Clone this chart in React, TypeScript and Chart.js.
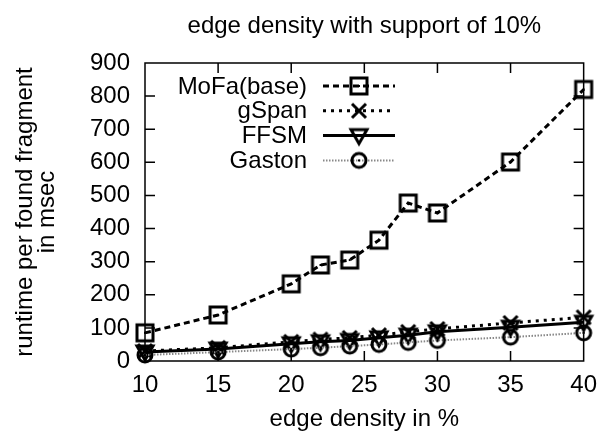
import React, { useEffect, useRef } from "react";
import { Chart, registerables } from "chart.js";

Chart.register(...registerables);

const xValues = [10, 15, 20, 22, 24, 26, 28, 30, 35, 40];
const mofa = [85, 139, 233, 290, 305, 365, 477, 447, 601, 820];
const gspan = [30, 40, 58, 65, 70, 78, 88, 97, 115, 132];
const ffsm = [27, 36, 52, 58, 62, 70, 78, 88, 102, 117];
const gaston = [18, 27, 36, 40, 45, 50, 56, 62, 72, 85];
const seriesNames = ["MoFa(base)", "gSpan", "FFSM", "Gaston"];
const chartTitle = "edge density with support of 10%";
const xTitle = "edge density in %";
const yTitle = ["runtime per found fragment", "in msec"];
const xMin = 10, xMax = 40, xStep = 5;
const yMin = 0, yMax = 900, yStep = 100;

const FONT = "'Liberation Sans', Arial, Helvetica, sans-serif";

type MarkerKind = "square" | "cross" | "tri" | "circle";

function makeMarker(kind: MarkerKind): HTMLCanvasElement {
  const c = document.createElement("canvas");
  c.width = 24;
  c.height = 24;
  const g = c.getContext("2d")!;
  g.translate(12, 12);
  g.strokeStyle = "#000";
  g.fillStyle = "#000";
  g.lineWidth = 3;
  g.beginPath();
  if (kind === "square") {
    g.rect(-8, -8, 16, 16);
    g.stroke();
    g.fillRect(-1, -1, 2, 2);
  } else if (kind === "cross") {
    g.moveTo(-7, -7);
    g.lineTo(7, 7);
    g.moveTo(7, -7);
    g.lineTo(-7, 7);
    g.stroke();
  } else if (kind === "tri") {
    g.moveTo(-8, -6);
    g.lineTo(8, -6);
    g.lineTo(0, 8);
    g.closePath();
    g.stroke();
  } else {
    g.arc(0, 0, 7, 0, Math.PI * 2);
    g.stroke();
    g.fillRect(-1, -1, 2, 2);
  }
  return c;
}

const lineStyles = [
  { color: "#000", width: 3, dash: [6, 4] },
  { color: "#000", width: 3, dash: [3, 5] },
  { color: "#000", width: 3, dash: [] as number[] },
  { color: "#888", width: 2, dash: [1.5, 1.5] },
];

export default function App() {
  const ref = useRef<HTMLCanvasElement | null>(null);

  useEffect(() => {
    if (!ref.current) return;
    const markers = [
      makeMarker("square"),
      makeMarker("cross"),
      makeMarker("tri"),
      makeMarker("circle"),
    ];
    const seriesData = [mofa, gspan, ffsm, gaston];

    const framePlugin = {
      id: "frameTicks",
      beforeDatasetsDraw(chart: any) {
        const { ctx, chartArea: a, scales } = chart;
        ctx.save();
        ctx.strokeStyle = "#000";
        ctx.lineWidth = 1.5;
        ctx.strokeRect(a.left, a.top, a.right - a.left, a.bottom - a.top);
        const T = 10;
        ctx.beginPath();
        scales.x.ticks.forEach((t: any) => {
          const px = scales.x.getPixelForValue(t.value);
          if (px <= a.left + 1 || px >= a.right - 1) return;
          ctx.moveTo(px, a.bottom);
          ctx.lineTo(px, a.bottom - T);
          ctx.moveTo(px, a.top);
          ctx.lineTo(px, a.top + T);
        });
        scales.y.ticks.forEach((t: any) => {
          const py = scales.y.getPixelForValue(t.value);
          if (py <= a.top + 1 || py >= a.bottom - 1) return;
          ctx.moveTo(a.left, py);
          ctx.lineTo(a.left + T, py);
          ctx.moveTo(a.right, py);
          ctx.lineTo(a.right - T, py);
        });
        ctx.stroke();
        ctx.restore();
      },
    };

    const legendPlugin = {
      id: "gnuLegend",
      afterDatasetsDraw(chart: any) {
        const { ctx, chartArea: a } = chart;
        ctx.save();
        ctx.font = `24px ${FONT}`;
        ctx.textAlign = "right";
        ctx.textBaseline = "middle";
        ctx.fillStyle = "#000";
        const textRight = a.left + 162;
        const lineStart = a.left + 178;
        const lineEnd = a.left + 250;
        const markX = a.left + 214;
        seriesNames.forEach((name, i) => {
          const y = a.top + 23 + i * 24.8;
          ctx.fillText(name, textRight, y + 1);
          const s = lineStyles[i];
          ctx.beginPath();
          ctx.strokeStyle = s.color;
          ctx.lineWidth = s.width;
          ctx.setLineDash(s.dash);
          ctx.moveTo(lineStart, y);
          ctx.lineTo(lineEnd, y);
          ctx.stroke();
          ctx.setLineDash([]);
          const m = markers[i];
          ctx.drawImage(m, markX - m.width / 2, y - m.height / 2);
        });
        ctx.restore();
      },
    };

    const chart = new Chart(ref.current, {
      type: "line",
      data: {
        datasets: seriesData.map((vals, i) => ({
          label: seriesNames[i],
          data: xValues.map((x, j) => ({ x, y: vals[j] })),
          borderColor: lineStyles[i].color,
          borderWidth: lineStyles[i].width,
          borderDash: lineStyles[i].dash,
          borderCapStyle: "butt",
          fill: false,
          tension: 0,
          pointStyle: markers[i] as any,
          pointRadius: 8,
          clip: false as any,
          order: 4 - i,
        })),
      },
      options: {
        responsive: false,
        animation: false,
        layout: { padding: { left: 0, right: 17, top: 0, bottom: 0 } },
        plugins: {
          legend: { display: false },
          tooltip: { enabled: false },
          title: {
            display: true,
            text: chartTitle,
            fullSize: false,
            color: "#000",
            font: { family: FONT, size: 24, weight: "normal", lineHeight: 1.2 },
            padding: { top: 12, bottom: 22.2 },
          },
        },
        scales: {
          x: {
            type: "linear",
            min: xMin,
            max: xMax,
            ticks: {
              stepSize: xStep,
              color: "#000",
              padding: 10,
              maxRotation: 0,
              font: { family: FONT, size: 24 },
            },
            grid: { display: false, drawTicks: false },
            border: { display: false },
            title: {
              display: true,
              text: xTitle,
              color: "#000",
              font: { family: FONT, size: 24, lineHeight: 1.2 },
              padding: { top: 0, bottom: 0 },
            },
            afterFit(scale: any) {
              scale.height = 73;
            },
          },
          y: {
            type: "linear",
            min: yMin,
            max: yMax,
            ticks: {
              stepSize: yStep,
              color: "#000",
              padding: 15,
              font: { family: FONT, size: 24 },
            },
            grid: { display: false, drawTicks: false },
            border: { display: false },
            title: {
              display: true,
              text: yTitle,
              color: "#000",
              font: { family: FONT, size: 24, lineHeight: 0.92 },
              padding: { top: 14.5, bottom: 0 },
            },
            afterFit(scale: any) {
              scale.width = 145;
            },
          },
        },
      },
      plugins: [framePlugin, legendPlugin],
    });
    return () => chart.destroy();
  }, []);

  return (
    <div style={{ position: "absolute", left: 0, top: 0, width: 607, height: 434, background: "#fff" }}>
      <canvas ref={ref} width={607} height={434} />
    </div>
  );
}
